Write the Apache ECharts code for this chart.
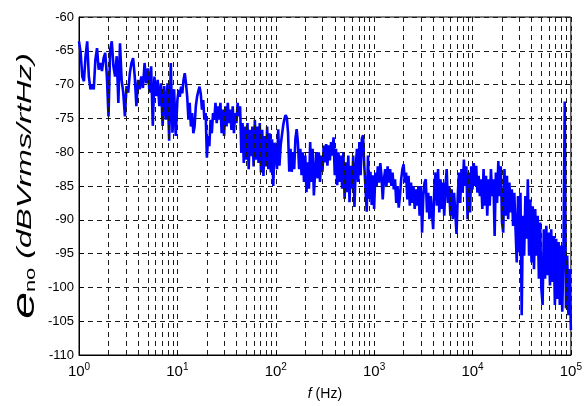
<!DOCTYPE html>
<html>
<head>
<meta charset="utf-8">
<script src="https://cdn.jsdelivr.net/npm/echarts@6/dist/echarts.min.js"></script>
<style>
  html, body { margin: 0; padding: 0; background: #fff; }
  #chart { width: 585px; height: 406px; }
</style>
</head>
<body>
<div id="chart"></div>
<script>
// Output noise spectral density (dBVrms/rtHz). Each decade is sampled on an
// even log grid: point i of a decade with n points sits at 10^(d + i/n) Hz.
const noise1to10Hz = [
  -63.6,-65.3,-68.8,-69.5,-65.8,-63.6,-68.8,-70.7,-70.0,-70.7,
  -66.3,-64.6,-67.8,-66.8,-68.0,-66.1,-65.3,-68.8,-74.7,-64.8,
  -63.6,-67.3,-68.8,-65.8,-72.7,-63.9,-69.3,-71.2,-74.7,-70.2,
  -71.2,-68.3,-66.8,-66.1,-68.8,-73.2,-69.3,-70.7,-68.8,-70.5,
  -66.8,-69.8,-67.6,-71.2,-67.3,-76.1,-68.8,-71.7,-69.3,-73.2,
  -69.8,-76.1,-70.2,-75.2,-69.8,-78.3,-66.8,-77.1,-70.7,-77.6
];
const noise10to100Hz = [
  -72.3,-70.8,-71.8,-70.3,-71.3,-69.3,-68.3,-69.8,-71.8,-75.2,
  -72.7,-76.2,-74.2,-77.2,-76.2,-73.2,-71.8,-71.0,-70.3,-71.3,
  -73.7,-72.3,-75.2,-74.2,-80.8,-77.6,-79.1,-75.2,-77.2,-74.2,
  -75.2,-72.7,-75.7,-73.2,-75.2,-72.7,-77.2,-73.7,-77.6,-73.2,
  -76.2,-72.7,-75.7,-73.7,-76.7,-73.2,-77.2,-74.2,-75.7,-72.7,
  -74.7,-73.2,-80.1,-75.7,-81.6,-76.2,-81.1,-75.7,-82.5,-76.7,
  -80.6,-76.2,-82.1,-75.2,-81.1,-76.2,-81.6,-75.7,-83.0,-76.7,
  -83.5,-77.6,-82.1,-76.2,-82.5,-77.2,-83.0,-78.1,-85.0,-78.6
];
const noise100Hzto1k = [
  -78.5,-82.5,-76.6,-82.0,-79.0,-77.5,-76.1,-75.1,-74.5,-74.9,
  -77.1,-82.9,-79.5,-82.9,-80.0,-82.5,-78.0,-76.6,-78.5,-82.5,
  -79.5,-83.4,-80.0,-84.4,-80.5,-85.9,-81.5,-85.4,-78.5,-84.4,
  -79.5,-86.4,-82.9,-80.0,-83.9,-80.0,-84.4,-80.5,-82.9,-79.0,
  -81.5,-78.8,-82.0,-79.0,-81.2,-78.5,-80.5,-77.8,-83.4,-79.5,
  -84.9,-80.0,-84.4,-80.5,-85.4,-80.0,-86.9,-81.5,-85.9,-80.5,
  -87.4,-82.0,-85.4,-80.5,-88.1,-82.5,-79.5,-84.4,-78.5,-83.4,
  -78.0,-77.5,-82.0,-85.4,-88.8,-80.5,-86.9,-82.9,-87.8,-83.4
];
const noise1kto10k = [
  -88.4,-83.0,-85.0,-82.1,-84.5,-81.6,-83.5,-87.0,-84.0,-82.5,
  -85.0,-82.1,-84.5,-82.5,-85.0,-83.0,-85.5,-84.0,-87.5,-85.0,
  -88.2,-86.5,-84.0,-82.5,-81.8,-84.5,-83.0,-87.0,-83.5,-87.9,
  -84.5,-87.5,-85.0,-88.4,-85.5,-87.9,-85.0,-89.4,-85.0,-91.9,
  -86.5,-84.5,-84.0,-88.9,-86.0,-89.9,-86.5,-88.9,-91.4,-85.0,
  -83.0,-87.9,-82.5,-88.9,-84.0,-88.4,-84.5,-89.4,-85.0,-82.5,
  -87.5,-85.0,-89.4,-85.5,-89.9,-86.0,-88.9,-92.1,-86.5,-83.0,
  -87.5,-82.5,-86.0,-81.1,-85.0,-82.1,-89.9,-83.0,-88.9,-82.1
];
const noise10kto100k = [
  -85.5,-81.6,-85.0,-82.0,-86.0,-83.5,-86.5,-84.0,-88.4,-82.5,
  -87.9,-83.5,-89.4,-84.0,-87.9,-82.5,-86.5,-84.0,-92.4,-83.0,
  -87.5,-81.3,-86.5,-82.1,-90.4,-91.9,-82.5,-89.4,-83.5,-89.9,
  -84.5,-88.9,-85.5,-90.9,-86.0,-91.4,-96.3,-86.5,-94.8,-86.0,
  -104.1,-89.4,-95.3,-86.5,-92.8,-84.0,-95.3,-87.0,-96.3,-88.0,
  -97.3,-88.4,-95.3,-89.4,-98.7,-90.4,-100.2,-102.6,-91.4,-98.7,
  -90.9,-98.2,-91.9,-99.7,-91.4,-99.2,-92.4,-102.6,-92.8,-101.7,
  -93.3,-102.6,-93.8,-103.6,-94.3,-72.5,-103.1,-95.3,-104.1,-97.3
];
const noiseAt100k = -106.3;

const yTicks = [-110, -105, -100, -95, -90, -85, -80, -75, -70, -65, -60];

// Assemble [frequency, level] pairs on the per-decade log grid.
const decades = [noise1to10Hz, noise10to100Hz, noise100Hzto1k, noise1kto10k, noise10kto100k];
const points = [];
decades.forEach((vals, d) => {
  vals.forEach((v, i) => points.push([Math.pow(10, d + i / vals.length), v]));
});
points.push([1e5, noiseAt100k]);

// Intermediate log-grid lines at 2..9 x 10^n
const minorGrid = [];
for (let d = 0; d < 5; d++) {
  for (let k = 2; k <= 9; k++) minorGrid.push({ xAxis: k * Math.pow(10, d) });
}

const FONT = 'Liberation Sans, Arial, sans-serif';
const dashed = { color: '#1a1a1a', width: 1, type: [5, 4] };

const chart = echarts.init(document.getElementById('chart'), null, { renderer: 'canvas' });
chart.setOption({
  animation: false,
  backgroundColor: '#fff',
  grid: {
    left: 79, right: 10, top: 17, bottom: 49,
    show: true, borderColor: '#000', borderWidth: 1, backgroundColor: 'transparent'
  },
  xAxis: {
    type: 'log', logBase: 10, min: 1, max: 1e5,
    axisLine: { show: true, lineStyle: { color: '#000', width: 1 } },
    axisTick: { show: true, inside: true, length: 4, lineStyle: { color: '#000' } },
    splitLine: { show: true, lineStyle: dashed },
    axisLabel: {
      margin: 7,
      formatter: v => '{b|10}{s|' + Math.round(Math.log10(v)) + '}',
      rich: {
        b: { fontFamily: FONT, fontSize: 15, color: '#000' },
        s: { fontFamily: FONT, fontSize: 10, color: '#000', padding: [0, 0, 10, 0] }
      }
    },
    name: '{i|f} (Hz)',
    nameLocation: 'middle',
    nameGap: 32,
    nameTextStyle: {
      fontFamily: FONT, fontSize: 14, color: '#000',
      rich: { i: { fontFamily: FONT, fontSize: 14, fontStyle: 'italic', color: '#000' } }
    }
  },
  yAxis: {
    type: 'value', min: yTicks[0], max: yTicks[yTicks.length - 1], interval: 5,
    axisLine: { show: true, lineStyle: { color: '#000', width: 1 } },
    axisTick: { show: true, inside: true, length: 4, lineStyle: { color: '#000' } },
    splitLine: { show: true, lineStyle: dashed },
    axisLabel: { fontFamily: FONT, fontSize: 13, color: '#000', margin: 5 }
  },
  graphic: [{
    type: 'text',
    x: 25,
    y: 186,
    rotation: Math.PI / 2,
    scaleX: 1.55,
    scaleY: 1,
    silent: true,
    style: {
      text: '{e|e}{n|no}{t| (dBVrms/rtHz)}',
      align: 'center',
      verticalAlign: 'middle',
      fill: '#000',
      rich: {
        e: { fontFamily: FONT, fontSize: 31, fontStyle: 'italic', fill: '#000' },
        n: { fontFamily: FONT, fontSize: 14, fill: '#000', padding: [12, 0, 0, 0] },
        t: { fontFamily: FONT, fontSize: 21, fontStyle: 'italic', fill: '#000' }
      }
    }
  }],
  series: [
    {
      type: 'line',
      data: [],
      silent: true,
      z: 1,
      markLine: {
        silent: true,
        symbol: 'none',
        label: { show: false },
        lineStyle: dashed,
        data: minorGrid
      }
    },
    {
      type: 'line',
      data: points,
      showSymbol: false,
      clip: true,
      z: 3,
      lineStyle: { color: '#0000ff', width: 2.6 },
      itemStyle: { color: '#0000ff' }
    }
  ]
});
</script>
</body>
</html>
